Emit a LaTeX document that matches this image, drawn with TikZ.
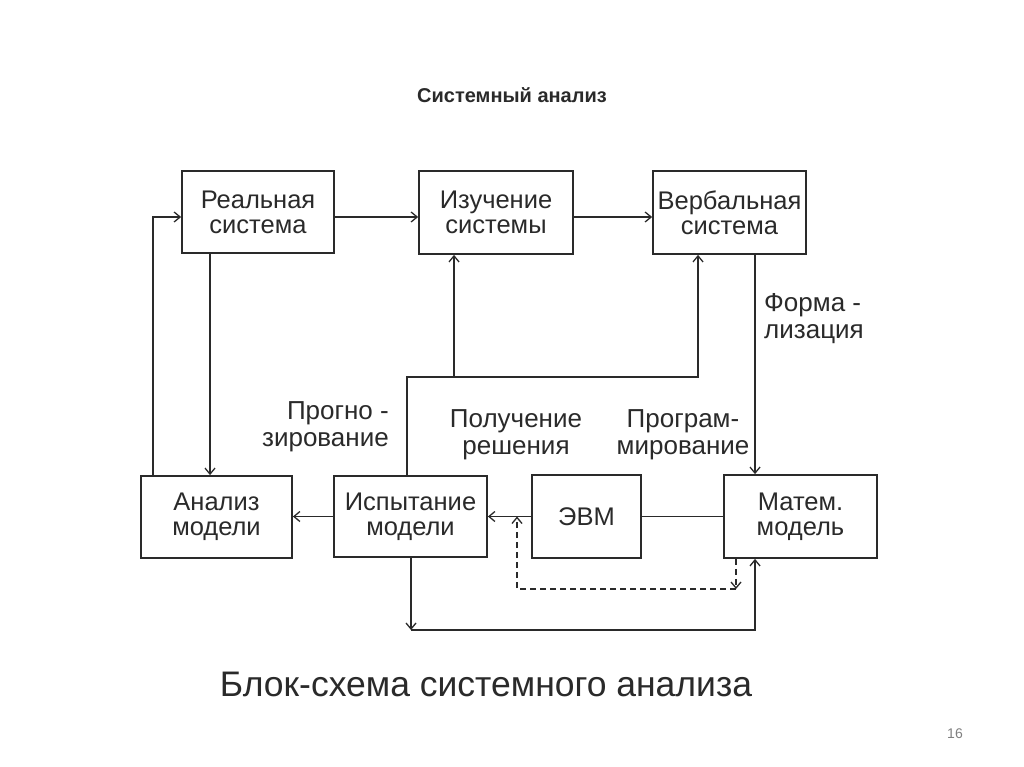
\documentclass[tikz,border=0pt]{standalone}
\usepackage{fontspec}
\setmainfont{Liberation Sans}
\usetikzlibrary{arrows.meta}
\definecolor{ink}{HTML}{2A2A2A}
\tikzset{
  blk/.style={draw=ink, line width=1.8pt, text=ink, align=center, inner sep=0pt,
    font=\fontsize{25.5}{25}\selectfont},
  lbl/.style={text=ink, font=\fontsize{26}{27}\selectfont, inner sep=0pt},
  con/.style={draw=ink, line width=1.5pt},
  arr/.style={con, -{Straight Barb[length=6pt,width=10pt,line width=1.3pt]}},
  dsh/.style={arr, dashed, dash pattern=on 6pt off 4pt},
}
\begin{document}
\begin{tikzpicture}[x=1pt,y=-1pt]
\useasboundingbox (0,0) rectangle (1024,767);
\fill[white] (0,0) rectangle (1024,767);
\node[font=\bfseries\fontsize{20}{22}\selectfont, text=ink] (title) at (512,95) {Системный анализ};

\node[blk, minimum width=152pt, minimum height=82pt] (real) at (258,212) {Реальная\\система};
\node[blk, minimum width=154pt, minimum height=83pt] (izuch) at (496,212.5) {Изучение\\системы};
\node[blk, minimum width=153pt, minimum height=83pt] (verb) at (729.5,212.5) {Вербальная\\система};
\node[blk, minimum width=151pt, minimum height=82pt] (anal) at (216.5,517) {Анализ\\модели};
\node[blk, minimum width=153pt, minimum height=81pt] (isp) at (410.5,516.5) {Испытание\\модели};
\node[blk, minimum width=109pt, minimum height=83pt] (evm) at (586.5,516.5) {ЭВМ};
\node[blk, minimum width=153pt, minimum height=83pt] (mat) at (800.5,516.5) {Матем.\\модель};

\node[lbl, align=right, anchor=east] (progn) at (389,427) {Прогно -\\зирование};
\node[lbl, align=center] (polu) at (516,435) {Получение\\решения};
\node[lbl, align=center] (progr) at (683,435) {Програм-\\мирование};
\node[lbl, align=left, anchor=west] (form) at (764,319) {Форма -\\лизация};

% top row
\draw[arr] (real.east |- 0,217) -- (izuch.west |- 0,217);
\draw[arr] (izuch.east |- 0,217) -- (verb.west |- 0,217);
% real -> anal, feedback anal -> real
\draw[arr] (real.south -| 210,0) -- (anal.north -| 210,0);
\draw[arr] (anal.north -| 153,0) |- (real.west |- 0,217);
% isp up to izuch and verb
\coordinate (j) at (454,377);
\coordinate (k) at (698,377);
\draw[con] (isp.north -| 407,0) |- (j);
\draw[arr] (j) -- (izuch.south -| j);
\draw[arr] (j) -- (k) -- (verb.south -| k);
% formalisation
\draw[arr] (verb.south -| 755,0) -- (mat.north -| 755,0);
% middle row
\draw[con] (mat.west) -- (mat.west -| evm.east);
\draw[arr] (evm.west) -- (evm.west -| isp.east);
\draw[arr] (isp.west) -- (isp.west -| anal.east);
% dashed
\coordinate (d1) at (736,589);
\coordinate (d2) at (517,589);
\draw[dsh] (mat.south -| d1) -- (d1);
\draw[dsh] (d1) -- (d2) -- (d2 |- evm.west);
% bottom loop
\coordinate (b1) at (411,630);
\coordinate (b2) at (755,630);
\draw[arr] (isp.south -| b1) -- (b1);
\draw[arr] (b1) -- (b2) -- (mat.south -| b2);

\node[text=ink, font=\fontsize{35.5}{38}\selectfont] (cap) at (486,684) {Блок-схема системного анализа};
\node[text=gray, font=\fontsize{14}{16}\selectfont] (pg) at (955,734) {16};
\end{tikzpicture}
\end{document}
